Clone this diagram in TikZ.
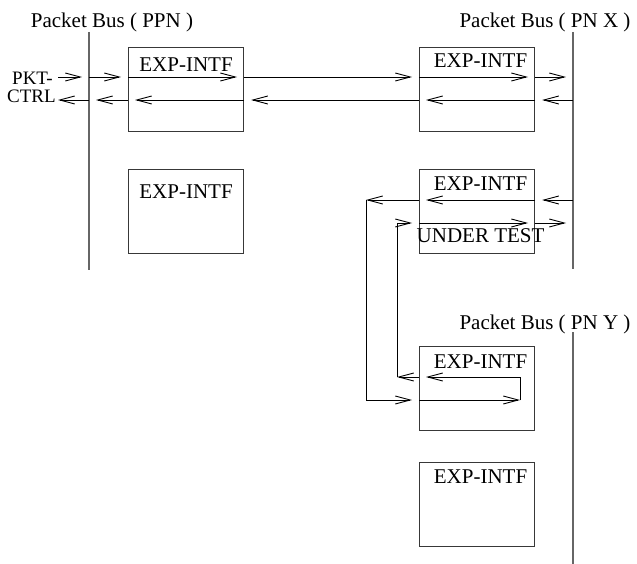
\documentclass[tikz,border=0pt]{standalone}
\usepackage{fontspec}
\setmainfont{Liberation Serif}
\usepackage{tikz}
\usetikzlibrary{arrows.meta, calc}
\definecolor{cbus}{gray}{0.40}
\definecolor{cbox}{gray}{0.22}

\begin{document}
\begin{tikzpicture}[
    x=1pt, y=-1pt,
    box/.style={draw=cbox, line width=1.1pt, minimum width=115pt, minimum height=84pt, inner sep=0pt, anchor=north west},
    lbl/.style={font=\fontsize{21}{25}\selectfont, inner sep=0pt, anchor=base},
    sidelbl/.style={font=\fontsize{19}{22}\selectfont, inner sep=0pt, anchor=base west},
    bus/.style={draw=cbus, line width=1.1pt},
    flow/.style={line width=0.9pt, -{Straight Barb[length=15pt, width=8pt, line width=0.9pt]}, shorten >=7pt},
    flowend/.style={flow, shorten >=0pt}
]
\useasboundingbox (0,0) rectangle (637,564);
% buses
\coordinate (ppnT) at (89,32);  \coordinate (ppnB) at (89,270);
\coordinate (pnxT) at (573,32); \coordinate (pnxB) at (573,269);
\coordinate (pnyT) at (573,332); \coordinate (pnyB) at (573,564);
\draw[bus] (ppnT) -- (ppnB);
\draw[bus] (pnxT) -- (pnxB);
\draw[bus] (pnyT) -- (pnyB);
\node[lbl] (ppnL) at (112,28) {Packet Bus ( PPN )};
\node[lbl] (pnxL) at (545,28) {Packet Bus ( PN X )};
\node[lbl] (pnyL) at (545,329) {Packet Bus ( PN Y )};
% interfaces
\node[box] (ppnA) at (128,47) {};
\node[box] (ppnB2) at (128,169) {};
\node[box] (pnxA) at (419,47) {};
\node[box] (dut) at (419,169) {};
\node[box] (pnyA) at (419,346) {};
\node[box] (pnyB2) at (419,462) {};
\node[lbl] (tA) at ($(ppnA.north)+(0,25)$) {EXP-INTF};
\node[lbl] (tB) at ($(ppnB2.north)+(0,30)$) {EXP-INTF};
\node[lbl] (tC) at ($(pnxA.north)+(3.5,21)$) {EXP-INTF};
\node[lbl] (tD) at ($(dut.north)+(3.5,22)$) {EXP-INTF};
\node[lbl] (tDu) at ($(dut.north)+(3.5,73)$) {UNDER TEST};
\node[lbl] (tE) at ($(pnyA.north)+(3.5,22)$) {EXP-INTF};
\node[lbl] (tF) at ($(pnyB2.north)+(3.5,21)$) {EXP-INTF};
\node[sidelbl, text depth=0pt] (pkt) at (12,85) {PKT-};
\node[sidelbl, text height=13pt] (ctrl) at (7,103) {CTRL};
% rows and columns of the paths
\coordinate (r1) at (0,77);  \coordinate (r2) at (0,100);
\coordinate (r3) at (0,200); \coordinate (r4) at (0,223);
\coordinate (r5) at (0,377); \coordinate (r6) at (0,400);
\coordinate (c1) at (366,0); \coordinate (c2) at (397,0); \coordinate (c3) at (520,0);
\coordinate (pktE) at (58,77); \coordinate (ctrlE) at (58,100);
% PPN -> PN X
\draw[flow] (pktE) -- (ppnT |- r1);
\draw[flow] (ppnT |- r1) -- (ppnA.west |- r1);
\draw[flow] (ppnA.west |- r1) -- (ppnA.east |- r1);
\draw[flow] (ppnA.east |- r1) -- (pnxA.west |- r1);
\draw[flow] (pnxA.west |- r1) -- (pnxA.east |- r1);
\draw[flow] (pnxA.east |- r1) -- (pnxT |- r1);
% PN X -> PPN
\draw[flow] (pnxT |- r2) -- (pnxA.east |- r2);
\draw[flow] (pnxA.east |- r2) -- (pnxA.west |- r2);
\draw[flow] (pnxA.west |- r2) -- (ppnA.east |- r2);
\draw[flow] (ppnA.east |- r2) -- (ppnA.west |- r2);
\draw[flow] (ppnA.west |- r2) -- (ppnT |- r2);
\draw[flowend] (ppnT |- r2) -- (ctrlE);
% loop through the interface under test
\draw[flow] (pnxT |- r3) -- (dut.east |- r3);
\draw[flow] (dut.east |- r3) -- (dut.west |- r3);
\draw[flowend] (dut.west |- r3) -- (c1 |- r3);
\draw[flow] (c1 |- r3) -- (c1 |- r6) -- (pnyA.west |- r6);
\draw[flowend] (pnyA.west |- r6) -- (c3 |- r6);
\draw[flow] (c3 |- r6) -- (c3 |- r5) -- (pnyA.west |- r5);
\draw[flowend] (pnyA.west |- r5) -- (c2 |- r5);
\draw[flow] (c2 |- r5) -- (c2 |- r4) -- (dut.west |- r4);
\draw[flow] (dut.west |- r4) -- (dut.east |- r4);
\draw[flow] (dut.east |- r4) -- (pnxT |- r4);
\end{tikzpicture}
\end{document}
